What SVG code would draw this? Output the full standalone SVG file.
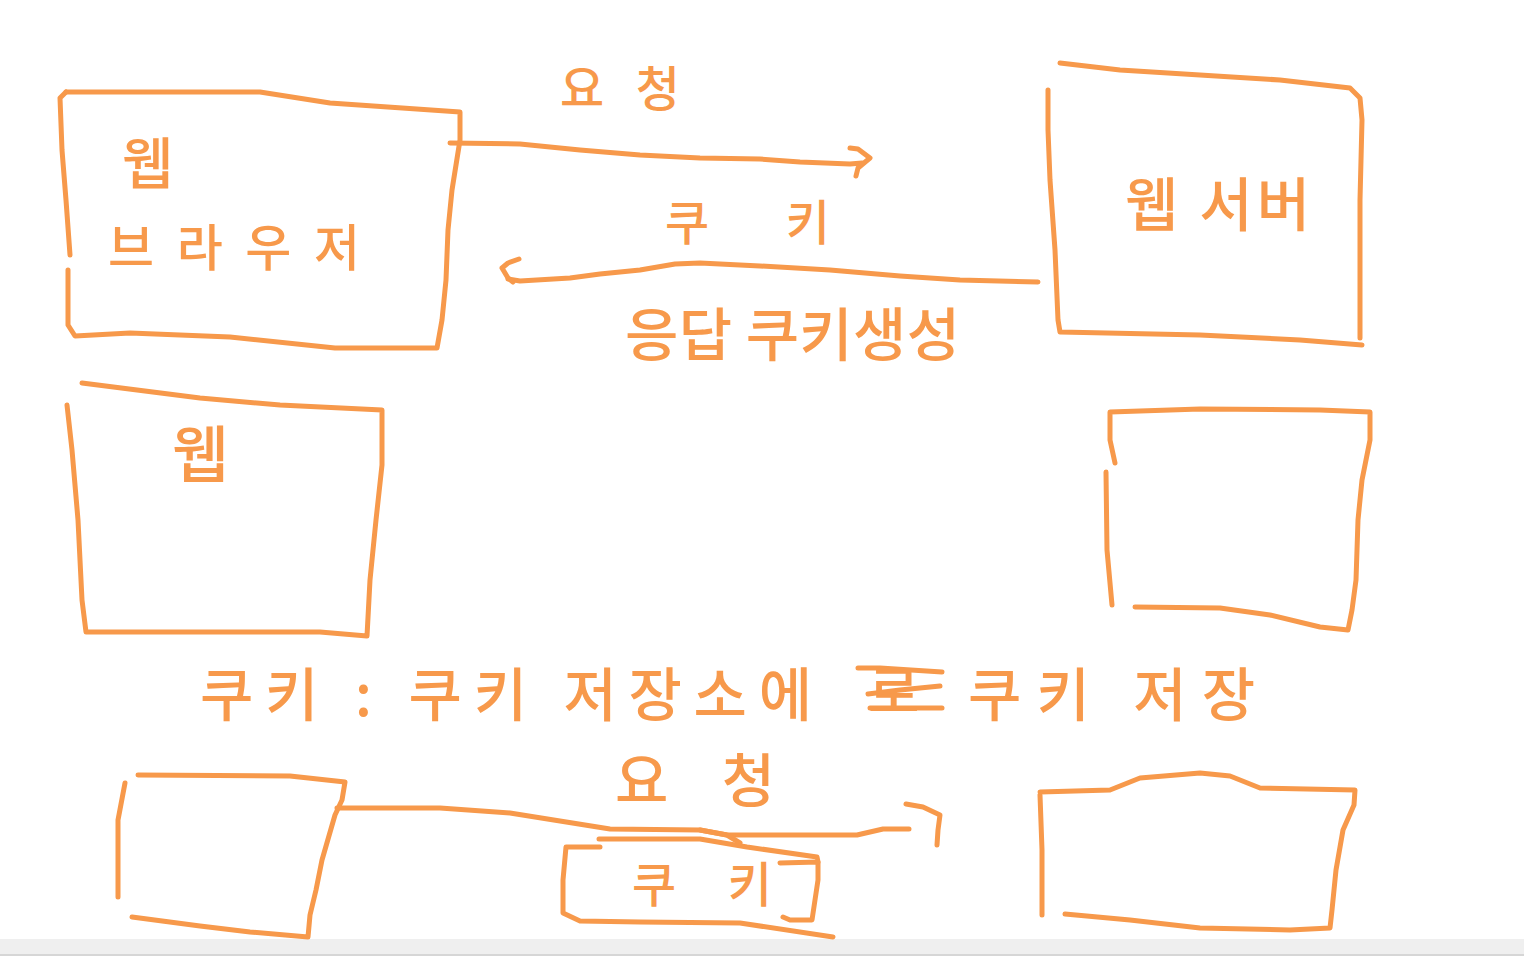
<svg xmlns="http://www.w3.org/2000/svg" width="1524" height="956" viewBox="0 0 1524 956">
<style>
.s{fill:none;stroke:#F7994B;stroke-width:5;stroke-linecap:round;stroke-linejoin:round}
.t{fill:#F7994B;font-family:"Noto Sans CJK KR","Noto Sans",sans-serif;font-weight:500}
</style>
<rect width="1524" height="956" fill="#FFFFFF"/>
<rect x="0" y="939" width="1524" height="17" fill="#EFEFEF"/>
<line x1="0" y1="955" x2="1524" y2="955" stroke="#D6D6D6" stroke-width="2"/>

<g id="browser">
<polyline class="s" points="66,92 260,92 330,103 460,112 460,140 452,190 448,230 446,280 442,320 437,348 335,348 230,337 130,333 75,336 68,325 68,270"/>
<polyline class="s" points="70,255 66,200 62,150 60,98 66,92"/>
<text class="t" x="122" y="184" font-size="56">웹</text>
<text class="t" x="108" y="266" font-size="50" textLength="252" lengthAdjust="spacing">브라우저</text>
</g>

<g id="server">
<polyline class="s" points="1060,63 1120,70 1200,75 1280,80 1350,88 1360,98 1362,120 1360,200 1360,270 1360,338"/>
<polyline class="s" points="1362,345 1300,340 1200,335 1060,332 1058,320 1055,250 1050,180 1048,130 1048,90"/>
<text class="t" x="1125" y="226" font-size="58" textLength="185" lengthAdjust="spacing">웹 서버</text>
</g>

<g id="box-web">
<polyline class="s" points="82,383 200,398 280,405 382,410 382,465 376,520 370,580 367,636 320,632 240,632 120,632 86,632 82,600 78,520 72,450 67,405"/>
<text class="t" x="172" y="478" font-size="62">웹</text>
</g>

<g id="box-right">
<polyline class="s" points="1115,463 1110,440 1110,412 1200,409 1320,410 1370,412 1370,440 1362,480 1358,520 1356,580 1352,610 1348,630 1320,627 1270,615 1220,608 1135,607"/>
<polyline class="s" points="1106,472 1107,550 1112,605"/>
</g>

<g id="box-bottom-left">
<polyline class="s" points="138,775 290,776 345,782 342,800 335,815 322,860 316,890 310,915 308,937 250,932 200,926 132,917"/>
<polyline class="s" points="118,897 118,820 125,783"/>
</g>

<g id="box-bottom-right">
<polyline class="s" points="1040,792 1110,790 1140,778 1200,773 1230,776 1260,788 1355,790 1354,805 1343,830 1336,870 1332,910 1330,928 1290,930 1200,928 1130,920 1065,914"/>
<polyline class="s" points="1042,915 1042,850 1040,795"/>
</g>

<g id="cookie-box">
<polyline class="s" points="600,847 566,847 563,880 563,913 580,921 640,922 740,923 833,937"/>
<polyline class="s" points="780,863 818,862 818,880 812,920 790,920 783,917"/>
<text class="t" x="632" y="902" font-size="48" textLength="140" lengthAdjust="spacing">쿠키</text>
</g>

<g id="connectors">
<polyline class="s" points="450,143 520,144 580,150 640,155 700,158 760,159 800,162 850,164 862,163"/>
<polyline class="s" points="850,148 858,149 870,158 858,168 856,176"/>
<polyline class="s" points="1038,282 960,280 900,276 830,270 760,266 700,263 675,264 640,270 600,274 570,278 520,281 508,279"/>
<polyline class="s" points="519,259 508,263 502,268 508,278 513,282"/>
<polyline class="s" points="337,808 440,808 510,813 610,829 700,830 727,835 857,835 883,829 909,829"/>
<polyline class="s" points="906,804 923,807 940,815 938,830 937,845"/>
<polyline class="s" points="599,839 700,839 747,847 817,857 818,862"/>
<polyline class="s" points="700,830 727,835 740,843"/>
</g>

<g id="labels">
<text class="t" x="560" y="106" font-size="48" textLength="120" lengthAdjust="spacing">요청</text>
<text class="t" x="665" y="240" font-size="48" textLength="165" lengthAdjust="spacing">쿠키</text>
<text class="t" x="625" y="356" font-size="58" textLength="335" lengthAdjust="spacing">응답 쿠키생성</text>
<text class="t" x="200" y="716" font-size="58" textLength="612" lengthAdjust="spacing">쿠키 : 쿠키 저장소에</text>
<text class="t" x="868" y="712" font-size="56">로</text>
<polyline class="s" points="858,668 880,668 942,672"/>
<polyline class="s" points="868,694 900,690 940,686"/>
<polyline class="s" points="870,708 942,708"/>
<text class="t" x="968" y="716" font-size="58" textLength="287" lengthAdjust="spacing">쿠키 저장</text>
<text class="t" x="615" y="802" font-size="58" textLength="160" lengthAdjust="spacing">요청</text>
</g>
</svg>
